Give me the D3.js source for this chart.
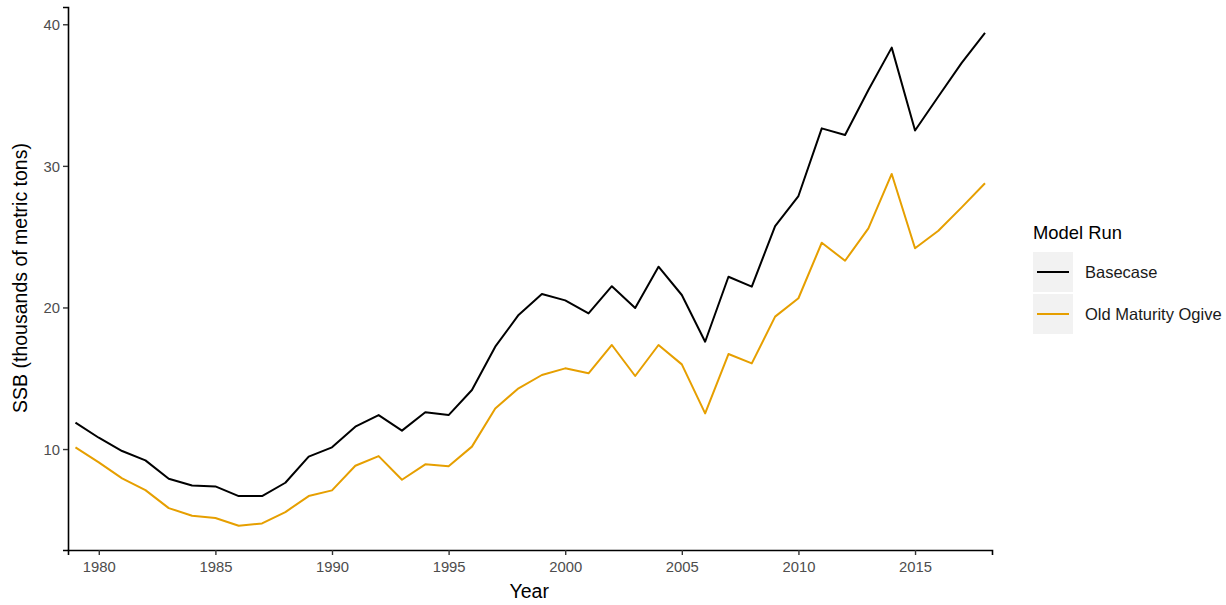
<!DOCTYPE html>
<meta charset="utf-8">
<style>
  body { margin: 0; background: #fff; }
  text { font-family: Arial, 'Liberation Sans', sans-serif; }
  .tick text { fill: #4d4d4d; font-size: 14.8px; }
</style>
<script src="https://d3js.org/d3.v7.min.js"></script>
<div id="chart"></div>
<script>
// data
var years = d3.range(1979, 2019);
var basecase = [11.86, 10.8, 9.86, 9.2, 7.9, 7.43, 7.36, 6.68, 6.68, 7.62,
  9.46, 10.12, 11.58, 12.4, 11.3, 12.6, 12.4, 14.17, 17.23, 19.47,
  20.95, 20.5, 19.58, 21.5, 19.96, 22.88, 20.88, 17.58, 22.17, 21.47,
  25.75, 27.87, 32.65, 32.18, 35.36, 38.35, 32.5, 34.9, 37.27, 39.4];
var oldOgive = [10.12, 9.06, 7.93, 7.1, 5.83, 5.29, 5.13, 4.58, 4.75, 5.55,
  6.68, 7.08, 8.82, 9.5, 7.83, 8.92, 8.78, 10.17, 12.87, 14.29,
  15.23, 15.7, 15.35, 17.35, 15.16, 17.35, 15.98, 12.52, 16.71, 16.05,
  19.35, 20.65, 24.57, 23.3, 25.59, 29.43, 24.18, 25.42, 27.07, 28.77];
var seriesNames = ["Basecase", "Old Maturity Ogive"];
var seriesColors = ["#000000", "#E69F00"];
var xTicks = [1980, 1985, 1990, 1995, 2000, 2005, 2010, 2015];
var yTicks = [10, 20, 30, 40];

var W = 1226, H = 605;
var margin = {top: 7, right: 234, bottom: 55, left: 68};
var width = W - margin.left - margin.right,
    height = H - margin.top - margin.bottom;

var svg = d3.select("#chart").append("svg")
    .attr("width", W).attr("height", H);
var g = svg.append("g")
    .attr("transform", "translate(" + margin.left + "," + margin.top + ")");

var x = d3.scaleLinear().domain([1978.68, 2018.3]).range([0, width]);
var y = d3.scaleLinear().domain([2.87, 41.22]).range([height, 0]);

// axes
var xAxis = g.append("g")
    .attr("transform", "translate(0," + height + ")")
    .call(d3.axisBottom(x).tickValues(xTicks).tickFormat(d3.format("d"))
      .tickSizeOuter(0).tickSize(5).tickPadding(6));
var yAxis = g.append("g")
    .call(d3.axisLeft(y).tickValues(yTicks).tickSizeOuter(0).tickSize(5).tickPadding(3));
[xAxis, yAxis].forEach(function(a) {
  a.select(".domain").attr("stroke", "#000").attr("stroke-width", 1.6);
  a.selectAll(".tick line").attr("stroke", "#333").attr("stroke-width", 1.4);
});
yAxis.selectAll(".tick text").attr("dy", "0.35em");

// lines
var line = d3.line()
    .x(function(d) { return x(d[0]); })
    .y(function(d) { return y(d[1]); });
[basecase, oldOgive].forEach(function(vals, i) {
  g.append("path")
    .datum(years.map(function(yr, j) { return [yr, vals[j]]; }))
    .attr("fill", "none")
    .attr("stroke", seriesColors[i])
    .attr("stroke-width", 2)
    .attr("stroke-linejoin", "round")
    .attr("d", line);
});

// axis titles
svg.append("text")
  .attr("x", margin.left + x(1979) + (x(2018) - x(1979)) / 2 - 1)
  .attr("y", 598)
  .attr("text-anchor", "middle")
  .style("font-size", "19.5px")
  .text("Year");

svg.append("text")
  .attr("transform", "translate(27," + 278 + ")rotate(-90)")
  .attr("text-anchor", "middle")
  .style("font-size", "19.5px")
  .text("SSB (thousands of metric tons)");

// legend
var leg = svg.append("g").attr("transform", "translate(1033,0)");
leg.append("text")
  .attr("x", 0).attr("y", 239)
  .style("font-size", "18.4px")
  .text("Model Run");
seriesNames.forEach(function(name, i) {
  var top = 252 + i * 42;
  leg.append("rect")
    .attr("x", 0).attr("y", top)
    .attr("width", 40).attr("height", 40)
    .attr("fill", "#f2f2f2");
  leg.append("line")
    .attr("x1", 4).attr("x2", 36)
    .attr("y1", top + 20).attr("y2", top + 20)
    .attr("stroke", seriesColors[i])
    .attr("stroke-width", 2);
  leg.append("text")
    .attr("x", 52).attr("y", top + 20)
    .attr("dy", "0.35em")
    .style("font-size", "16.5px")
    .style("fill", "#1a1a1a")
    .text(name);
});
</script>
